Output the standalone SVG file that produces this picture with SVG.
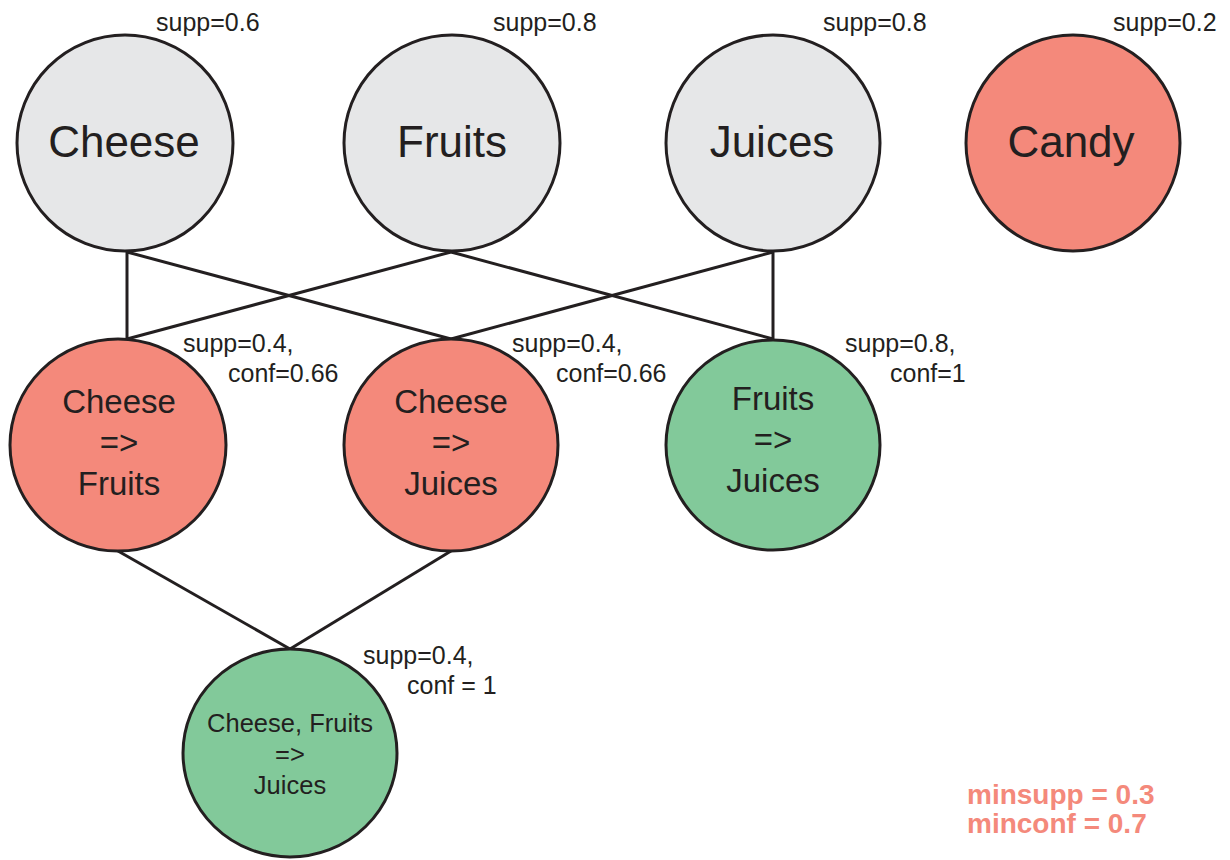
<svg xmlns="http://www.w3.org/2000/svg" width="1230" height="860" viewBox="0 0 1230 860">
<style>
.n{stroke:#231f20;stroke-width:3}
.g{fill:#e6e7e8}.r{fill:#f4897b}.gr{fill:#82c99a}
text{font-family:"Liberation Sans",Arial,sans-serif;fill:#231f20}
.big{font-size:44px;text-anchor:middle}
.mid{font-size:33px;text-anchor:middle}
.sm{font-size:25.5px;text-anchor:middle}
.lab{font-size:25px}
.leg{font-size:28px;font-weight:bold;fill:#f4897b}
.e{stroke:#231f20;stroke-width:3;fill:none}
</style>
<rect width="1230" height="860" fill="#fff"/>
<g id="connectors">
<line class="e" x1="127" y1="252" x2="127" y2="339"/>
<line class="e" x1="127" y1="252" x2="451" y2="339"/>
<line class="e" x1="451" y1="252" x2="127" y2="339"/>
<line class="e" x1="451" y1="252" x2="773" y2="339"/>
<line class="e" x1="773" y1="252" x2="451" y2="339"/>
<line class="e" x1="773" y1="252" x2="773" y2="339"/>
<line class="e" x1="118" y1="551" x2="290" y2="649"/>
<line class="e" x1="451" y1="551" x2="290" y2="649"/>
</g>
<g id="cheese">
<ellipse class="n g" cx="125" cy="143" rx="108" ry="108"/>
<text class="big" x="124" y="157">Cheese</text>
<text class="lab" x="156" y="31">supp=0.6</text>
</g>
<g id="fruits">
<ellipse class="n g" cx="452" cy="143" rx="108" ry="108"/>
<text class="big" x="452" y="157">Fruits</text>
<text class="lab" x="493" y="31">supp=0.8</text>
</g>
<g id="juices">
<ellipse class="n g" cx="773" cy="143" rx="107" ry="108"/>
<text class="big" x="772" y="157">Juices</text>
<text class="lab" x="823" y="31">supp=0.8</text>
</g>
<g id="candy">
<ellipse class="n r" cx="1073" cy="143" rx="107" ry="108"/>
<text class="big" x="1071" y="157">Candy</text>
<text class="lab" x="1113" y="31">supp=0.2</text>
</g>
<g id="cheese-fruits">
<ellipse class="n r" cx="118" cy="445" rx="108" ry="106"/>
<text class="mid" x="119" y="413">Cheese</text>
<text class="mid" x="119" y="454">=&gt;</text>
<text class="mid" x="119" y="495">Fruits</text>
<text class="lab" x="183" y="352">supp=0.4,</text>
<text class="lab" x="228" y="382">conf=0.66</text>
</g>
<g id="cheese-juices">
<ellipse class="n r" cx="451" cy="445" rx="107" ry="106"/>
<text class="mid" x="451" y="413">Cheese</text>
<text class="mid" x="451" y="454">=&gt;</text>
<text class="mid" x="451" y="495">Juices</text>
<text class="lab" x="512" y="352">supp=0.4,</text>
<text class="lab" x="556" y="382">conf=0.66</text>
</g>
<g id="fruits-juices">
<ellipse class="n gr" cx="773" cy="445" rx="107" ry="105"/>
<text class="mid" x="773" y="410">Fruits</text>
<text class="mid" x="773" y="451">=&gt;</text>
<text class="mid" x="773" y="492">Juices</text>
<text class="lab" x="845" y="352">supp=0.8,</text>
<text class="lab" x="890" y="382">conf=1</text>
</g>
<g id="cheese-fruits-juices">
<ellipse class="n gr" cx="290" cy="753" rx="107" ry="104"/>
<text class="sm" x="290" y="732">Cheese, Fruits</text>
<text class="sm" x="290" y="763">=&gt;</text>
<text class="sm" x="290" y="794">Juices</text>
<text class="lab" x="363" y="664">supp=0.4,</text>
<text class="lab" x="407" y="694">conf = 1</text>
</g>
<g id="legend">
<text class="leg" x="967" y="804">minsupp = 0.3</text>
<text class="leg" x="967" y="833">minconf = 0.7</text>
</g>
</svg>
